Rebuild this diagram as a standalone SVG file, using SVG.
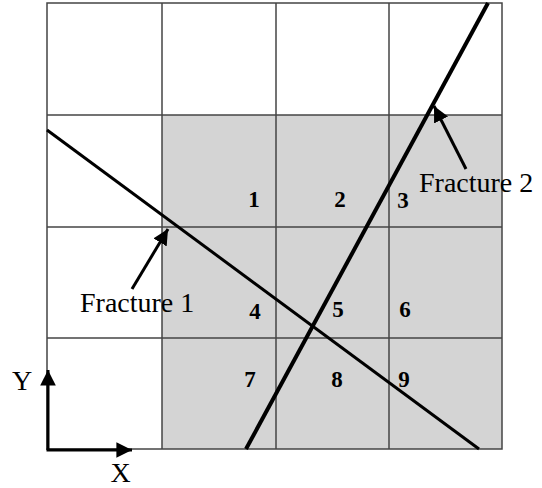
<svg xmlns="http://www.w3.org/2000/svg" width="542" height="488" viewBox="0 0 542 488">
<style>
.grid{stroke:#444;stroke-width:1.5;fill:none}
.frac{stroke:#000;stroke-linecap:butt;fill:none}
.ptr{stroke:#000;stroke-width:3;fill:none}
.num{font-family:"Liberation Serif",serif;font-weight:bold;font-size:23px;text-anchor:middle;fill:#000}
.lbl{font-family:"Liberation Serif",serif;font-size:28px;fill:#000}
</style>
<defs>
<marker id="ah" markerWidth="6" markerHeight="6" refX="5.2" refY="2.6" orient="auto" markerUnits="strokeWidth">
<path d="M0,0 L5.2,2.6 L0,5.2 Z" fill="#000"/>
</marker>
</defs>
<rect width="542" height="488" fill="#fff"/>
<g id="shaded">
<rect x="162" y="115" width="340" height="334" fill="#d4d4d4"/>
</g>
<g id="grid">
<rect class="grid" x="47" y="3" width="455" height="446"/>
<line class="grid" x1="162" y1="3" x2="162" y2="449"/>
<line class="grid" x1="276" y1="3" x2="276" y2="449"/>
<line class="grid" x1="389" y1="3" x2="389" y2="449"/>
<line class="grid" x1="47" y1="115" x2="502" y2="115"/>
<line class="grid" x1="47" y1="227" x2="502" y2="227"/>
<line class="grid" x1="47" y1="338" x2="502" y2="338"/>
</g>
<g id="fracture1">
<line class="frac" x1="47" y1="130" x2="479" y2="449" stroke-width="3"/>
</g>
<g id="fracture2">
<line class="frac" x1="488" y1="3" x2="246" y2="449" stroke-width="4"/>
</g>
<g id="connectors">
<line class="ptr" x1="132" y1="289" x2="168" y2="229" marker-end="url(#ah)"/>
<line class="ptr" x1="466" y1="169" x2="434" y2="106" marker-end="url(#ah)"/>
<line class="ptr" x1="48" y1="450" x2="48" y2="370" marker-end="url(#ah)"/>
<line class="ptr" x1="46.5" y1="450" x2="132" y2="450" marker-end="url(#ah)"/>
</g>
<g id="labels">
<text class="num" x="254" y="207">1</text>
<text class="num" x="340" y="207">2</text>
<text class="num" x="403" y="208">3</text>
<text class="num" x="255" y="319">4</text>
<text class="num" x="338" y="317">5</text>
<text class="num" x="405" y="317">6</text>
<text class="num" x="250" y="387">7</text>
<text class="num" x="337" y="387">8</text>
<text class="num" x="404" y="387">9</text>
<text class="lbl" x="419" y="192">Fracture 2</text>
<text class="lbl" x="80" y="312">Fracture 1</text>
<text class="lbl" x="22" y="390" text-anchor="middle">Y</text>
<text class="lbl" x="120.5" y="482" text-anchor="middle">X</text>
</g>
</svg>
